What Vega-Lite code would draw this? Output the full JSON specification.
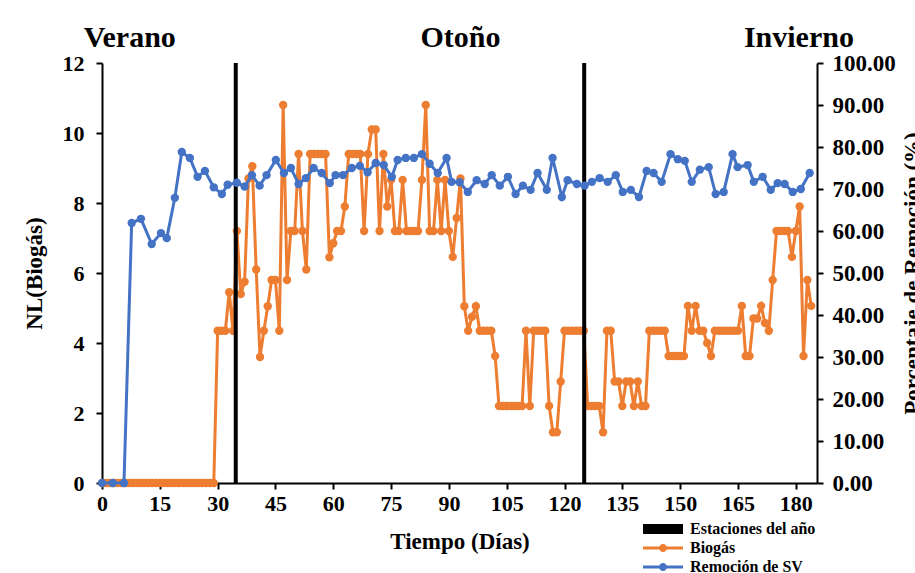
{
  "$schema": "https://vega.github.io/schema/vega-lite/v6.json",
  "width": 715,
  "height": 420,
  "autosize": {"type": "none"},
  "padding": {"left": 102, "top": 63, "right": 98, "bottom": 90},
  "background": "white",
  "config": {
    "font": "Liberation Serif",
    "view": {"stroke": null},
    "axis": {
      "labelFont": "Liberation Serif", "labelFontWeight": "bold", "labelFontSize": 22, "labelColor": "black",
      "titleFont": "Liberation Serif", "titleFontWeight": "bold", "titleFontSize": 23, "titleColor": "black",
      "domainColor": "black", "domainWidth": 2, "tickColor": "black", "tickWidth": 2, "tickSize": 6, "grid": false
    },
    "legend": {
      "labelFont": "Liberation Serif", "labelFontWeight": "bold", "labelFontSize": 16, "labelColor": "black", "padding": 0
    }
  },
  "datasets": {
    "estaciones": [{"dia": 34.7}, {"dia": 125.1}],
    "etiquetas": [
      {"estacion": "Verano", "dia": 7.2, "pos": 12.71},
      {"estacion": "Otoño", "dia": 93, "pos": 12.71},
      {"estacion": "Invierno", "dia": 180.8, "pos": 12.71}
    ],
    "leyenda": [{"serie": "Estaciones del año"}, {"serie": "Biogás"}, {"serie": "Remoción de SV"}],
    "biogas": [
      {"dia":0,"nl":0},{"dia":1,"nl":0},{"dia":2,"nl":0},{"dia":3,"nl":0},{"dia":4,"nl":0},{"dia":5,"nl":0},{"dia":6,"nl":0},{"dia":7,"nl":0},{"dia":8,"nl":0},{"dia":9,"nl":0},
      {"dia":10,"nl":0},{"dia":11,"nl":0},{"dia":12,"nl":0},{"dia":13,"nl":0},{"dia":14,"nl":0},{"dia":15,"nl":0},{"dia":16,"nl":0},{"dia":17,"nl":0},{"dia":18,"nl":0},{"dia":19,"nl":0},
      {"dia":20,"nl":0},{"dia":21,"nl":0},{"dia":22,"nl":0},{"dia":23,"nl":0},{"dia":24,"nl":0},{"dia":25,"nl":0},{"dia":26,"nl":0},{"dia":27,"nl":0},{"dia":28,"nl":0},{"dia":29,"nl":0},
      {"dia":30,"nl":4.35},{"dia":31,"nl":4.35},{"dia":32,"nl":4.35},{"dia":33,"nl":5.45},{"dia":34,"nl":4.35},{"dia":35,"nl":7.2},{"dia":36,"nl":5.4},{"dia":37,"nl":5.75},{"dia":38,"nl":8.7},{"dia":39,"nl":9.05},
      {"dia":40,"nl":6.1},{"dia":41,"nl":3.6},{"dia":42,"nl":4.35},{"dia":43,"nl":5.05},{"dia":44,"nl":5.8},{"dia":45,"nl":5.8},{"dia":46,"nl":4.35},{"dia":47,"nl":10.8},{"dia":48,"nl":5.8},{"dia":49,"nl":7.2},
      {"dia":50,"nl":7.2},{"dia":51,"nl":9.4},{"dia":52,"nl":7.2},{"dia":53,"nl":6.1},{"dia":54,"nl":9.4},{"dia":55,"nl":9.4},{"dia":56,"nl":9.4},{"dia":57,"nl":9.4},{"dia":58,"nl":9.4},{"dia":59,"nl":6.45},
      {"dia":60,"nl":6.85},{"dia":61,"nl":7.2},{"dia":62,"nl":7.2},{"dia":63,"nl":7.9},{"dia":64,"nl":9.4},{"dia":65,"nl":9.4},{"dia":66,"nl":9.4},{"dia":67,"nl":9.4},{"dia":68,"nl":7.2},{"dia":69,"nl":9.4},
      {"dia":70,"nl":10.1},{"dia":71,"nl":10.1},{"dia":72,"nl":7.2},{"dia":73,"nl":9.4},{"dia":74,"nl":7.9},{"dia":75,"nl":8.66},{"dia":76,"nl":7.2},{"dia":77,"nl":7.2},{"dia":78,"nl":8.66},{"dia":79,"nl":7.2},
      {"dia":80,"nl":7.2},{"dia":81,"nl":7.2},{"dia":82,"nl":7.2},{"dia":83,"nl":8.66},{"dia":84,"nl":10.8},{"dia":85,"nl":7.2},{"dia":86,"nl":7.2},{"dia":87,"nl":8.66},{"dia":88,"nl":7.2},{"dia":89,"nl":8.66},
      {"dia":90,"nl":7.2},{"dia":91,"nl":6.46},{"dia":92,"nl":7.57},{"dia":93,"nl":8.7},{"dia":94,"nl":5.05},{"dia":95,"nl":4.35},{"dia":96,"nl":4.75},{"dia":97,"nl":5.05},{"dia":98,"nl":4.35},{"dia":99,"nl":4.35},
      {"dia":100,"nl":4.35},{"dia":101,"nl":4.35},{"dia":102,"nl":3.63},{"dia":103,"nl":2.2},{"dia":104,"nl":2.2},{"dia":105,"nl":2.2},{"dia":106,"nl":2.2},{"dia":107,"nl":2.2},{"dia":108,"nl":2.2},{"dia":109,"nl":2.2},
      {"dia":110,"nl":4.35},{"dia":111,"nl":2.2},{"dia":112,"nl":4.35},{"dia":113,"nl":4.35},{"dia":114,"nl":4.35},{"dia":115,"nl":4.35},{"dia":116,"nl":2.2},{"dia":117,"nl":1.45},{"dia":118,"nl":1.45},{"dia":119,"nl":2.9},
      {"dia":120,"nl":4.35},{"dia":121,"nl":4.35},{"dia":122,"nl":4.35},{"dia":123,"nl":4.35},{"dia":124,"nl":4.35},{"dia":125,"nl":4.35},{"dia":126,"nl":2.2},{"dia":127,"nl":2.2},{"dia":128,"nl":2.2},{"dia":129,"nl":2.2},
      {"dia":130,"nl":1.45},{"dia":131,"nl":4.35},{"dia":132,"nl":4.35},{"dia":133,"nl":2.9},{"dia":134,"nl":2.9},{"dia":135,"nl":2.2},{"dia":136,"nl":2.9},{"dia":137,"nl":2.9},{"dia":138,"nl":2.2},{"dia":139,"nl":2.9},
      {"dia":140,"nl":2.2},{"dia":141,"nl":2.2},{"dia":142,"nl":4.35},{"dia":143,"nl":4.35},{"dia":144,"nl":4.35},{"dia":145,"nl":4.35},{"dia":146,"nl":4.35},{"dia":147,"nl":3.63},{"dia":148,"nl":3.63},{"dia":149,"nl":3.63},
      {"dia":150,"nl":3.63},{"dia":151,"nl":3.63},{"dia":152,"nl":5.06},{"dia":153,"nl":4.35},{"dia":154,"nl":5.06},{"dia":155,"nl":4.35},{"dia":156,"nl":4.35},{"dia":157,"nl":4.0},{"dia":158,"nl":3.63},{"dia":159,"nl":4.35},
      {"dia":160,"nl":4.35},{"dia":161,"nl":4.35},{"dia":162,"nl":4.35},{"dia":163,"nl":4.35},{"dia":164,"nl":4.35},{"dia":165,"nl":4.35},{"dia":166,"nl":5.06},{"dia":167,"nl":3.63},{"dia":168,"nl":3.63},{"dia":169,"nl":4.7},
      {"dia":170,"nl":4.7},{"dia":171,"nl":5.06},{"dia":172,"nl":4.57},{"dia":173,"nl":4.35},{"dia":174,"nl":5.8},{"dia":175,"nl":7.2},{"dia":176,"nl":7.2},{"dia":177,"nl":7.2},{"dia":178,"nl":7.2},{"dia":179,"nl":6.46},
      {"dia":180,"nl":7.2},{"dia":181,"nl":7.9},{"dia":182,"nl":3.63},{"dia":183,"nl":5.8},{"dia":184,"nl":5.06}
    ],
    "remocion": [
      {"dia":0,"rem":0},{"dia":2.8,"rem":0},{"dia":5.7,"rem":0},{"dia":7.7,"rem":61.9},{"dia":10.1,"rem":62.9},{"dia":12.9,"rem":56.9},{"dia":15.3,"rem":59.5},{"dia":16.8,"rem":58.3},{"dia":18.9,"rem":67.9},{"dia":20.7,"rem":78.8},
      {"dia":22.8,"rem":77.4},{"dia":24.8,"rem":72.9},{"dia":26.7,"rem":74.3},{"dia":29,"rem":70.4},{"dia":31.1,"rem":68.8},{"dia":32.6,"rem":71},{"dia":35,"rem":71.5},{"dia":37,"rem":70.6},{"dia":38.9,"rem":73.3},{"dia":40.9,"rem":70.8},
      {"dia":42.7,"rem":73.3},{"dia":45.1,"rem":76.9},{"dia":47.2,"rem":73.8},{"dia":49,"rem":75},{"dia":51,"rem":71.2},{"dia":52.9,"rem":72.6},{"dia":54.9,"rem":75},{"dia":57,"rem":73.8},{"dia":59.1,"rem":71.4},{"dia":60.6,"rem":73.3},
      {"dia":62.5,"rem":73.3},{"dia":64.8,"rem":75},{"dia":66.9,"rem":75.5},{"dia":68.9,"rem":74},{"dia":71,"rem":76.2},{"dia":73.1,"rem":75.7},{"dia":75.2,"rem":72.9},{"dia":76.7,"rem":76.9},{"dia":78.8,"rem":77.4},{"dia":80.9,"rem":77.4},
      {"dia":83,"rem":78.3},{"dia":85,"rem":76},{"dia":87.1,"rem":73.8},{"dia":89.4,"rem":77.4},{"dia":90.7,"rem":71.7},{"dia":92.8,"rem":71.6},{"dia":94.9,"rem":69.3},{"dia":97.2,"rem":72.1},{"dia":99.3,"rem":71.2},{"dia":101.1,"rem":73.3},
      {"dia":103.2,"rem":70.8},{"dia":105.3,"rem":72.9},{"dia":107.3,"rem":68.8},{"dia":109.2,"rem":70.8},{"dia":111.2,"rem":69.8},{"dia":113,"rem":73.8},{"dia":115.4,"rem":69.8},{"dia":116.9,"rem":77.4},{"dia":119.3,"rem":68.1},{"dia":120.8,"rem":72.1},
      {"dia":123.2,"rem":71.2},{"dia":125.2,"rem":70.8},{"dia":127.1,"rem":71.7},{"dia":129.1,"rem":72.6},{"dia":131.2,"rem":71.7},{"dia":133.3,"rem":73.3},{"dia":135.1,"rem":69.3},{"dia":137.2,"rem":69.8},{"dia":139.3,"rem":68.1},{"dia":141.3,"rem":74.3},
      {"dia":143.1,"rem":73.8},{"dia":145.2,"rem":71.7},{"dia":147.5,"rem":78.3},{"dia":149.4,"rem":77.1},{"dia":151.2,"rem":76.7},{"dia":153,"rem":71.7},{"dia":155.1,"rem":74.6},{"dia":157.4,"rem":75.2},{"dia":159.2,"rem":68.8},{"dia":161.3,"rem":69.3},
      {"dia":163.6,"rem":78.3},{"dia":164.9,"rem":75.2},{"dia":167.5,"rem":75.7},{"dia":169.1,"rem":71.7},{"dia":171.4,"rem":72.9},{"dia":173.5,"rem":69.8},{"dia":175.3,"rem":71.4},{"dia":177.1,"rem":71.2},{"dia":179.2,"rem":69.3},{"dia":181.3,"rem":70},
      {"dia":183.6,"rem":73.8}
    ]
  },
  "layer": [
    {
      "layer": [
        {
          "data": {"name": "biogas"},
          "mark": {"type": "line", "color": "#ED7D31", "strokeWidth": 3, "point": {"filled": true, "size": 70, "color": "#ED7D31"}},
          "encoding": {
            "x": {"field": "dia", "type": "quantitative", "scale": {"domain": [0, 185.5], "nice": false, "zero": false},
                  "axis": {"values": [0,15,30,45,60,75,90,105,120,135,150,165,180], "title": "Tiempo (Días)", "labelPadding": 4, "titlePadding": 16, "labelFlush": false}},
            "y": {"field": "nl", "type": "quantitative", "scale": {"domain": [0, 12], "nice": false},
                  "axis": {"values": [0,2,4,6,8,10,12], "title": "NL(Biogás)", "labelPadding": 12, "titlePadding": 16}}
          }
        },
        {
          "data": {"name": "etiquetas"},
          "mark": {"type": "text", "font": "Liberation Serif", "fontWeight": "bold", "fontSize": 30, "color": "black", "baseline": "middle", "align": "center"},
          "encoding": {
            "x": {"field": "dia", "type": "quantitative", "title": "Tiempo (Días)"},
            "y": {"field": "pos", "type": "quantitative",
                  "axis": {"values": [0,2,4,6,8,10,12], "title": "NL(Biogás)", "labelPadding": 12, "titlePadding": 16}},
            "text": {"field": "estacion"}
          }
        }
      ]
    },
    {
      "layer": [
        {
          "data": {"name": "estaciones"},
          "mark": {"type": "rule", "color": "black", "strokeWidth": 4},
          "encoding": {
            "x": {"field": "dia", "type": "quantitative", "title": "Tiempo (Días)"}
          }
        },
        {
          "data": {"name": "remocion"},
          "mark": {"type": "line", "color": "#4472C4", "strokeWidth": 3, "point": {"filled": true, "size": 70, "color": "#4472C4"}},
          "encoding": {
            "x": {"field": "dia", "type": "quantitative", "title": "Tiempo (Días)"},
            "y": {"field": "rem", "type": "quantitative", "scale": {"domain": [0, 100], "nice": false},
                  "axis": {"orient": "right", "values": [0,10,20,30,40,50,60,70,80,90,100], "format": ".2f", "title": "Porcentaje de Remoción (%)", "labelFontSize": 23, "labelPadding": 9, "titlePadding": 6, "titleAngle": 270, "titleBaseline": "top"}}
          }
        },
        {
          "data": {"name": "leyenda"},
          "mark": {"type": "point", "filled": true, "opacity": 0, "size": 400},
          "encoding": {
            "color": {"field": "serie", "type": "nominal",
                      "scale": {"domain": ["Estaciones del año", "Biogás", "Remoción de SV"], "range": ["black", "#ED7D31", "#4472C4"]},
                      "legend": {"title": null, "orient": "none", "legendX": 551, "legendY": 456, "symbolSize": 400, "symbolOpacity": 1, "symbolStrokeWidth": 0, "labelOffset": 17, "rowPadding": 1}},
            "shape": {"field": "serie", "type": "nominal",
                      "scale": {"domain": ["Estaciones del año", "Biogás", "Remoción de SV"],
                                "range": ["M-2,-0.5H2V0.5H-2Z", "M-2,-0.15H2V0.15H-2Z M0.4,0A0.4,0.4 0 1,1 -0.4,0A0.4,0.4 0 1,1 0.4,0Z", "M-2,-0.15H2V0.15H-2Z M0.4,0A0.4,0.4 0 1,1 -0.4,0A0.4,0.4 0 1,1 0.4,0Z"]},
                      "legend": {"title": null, "orient": "none", "legendX": 551, "legendY": 456, "symbolSize": 400, "symbolOpacity": 1, "symbolStrokeWidth": 0, "labelOffset": 17, "rowPadding": 1}}
          }
        }
      ]
    }
  ],
  "resolve": {"scale": {"y": "independent"}}
}
